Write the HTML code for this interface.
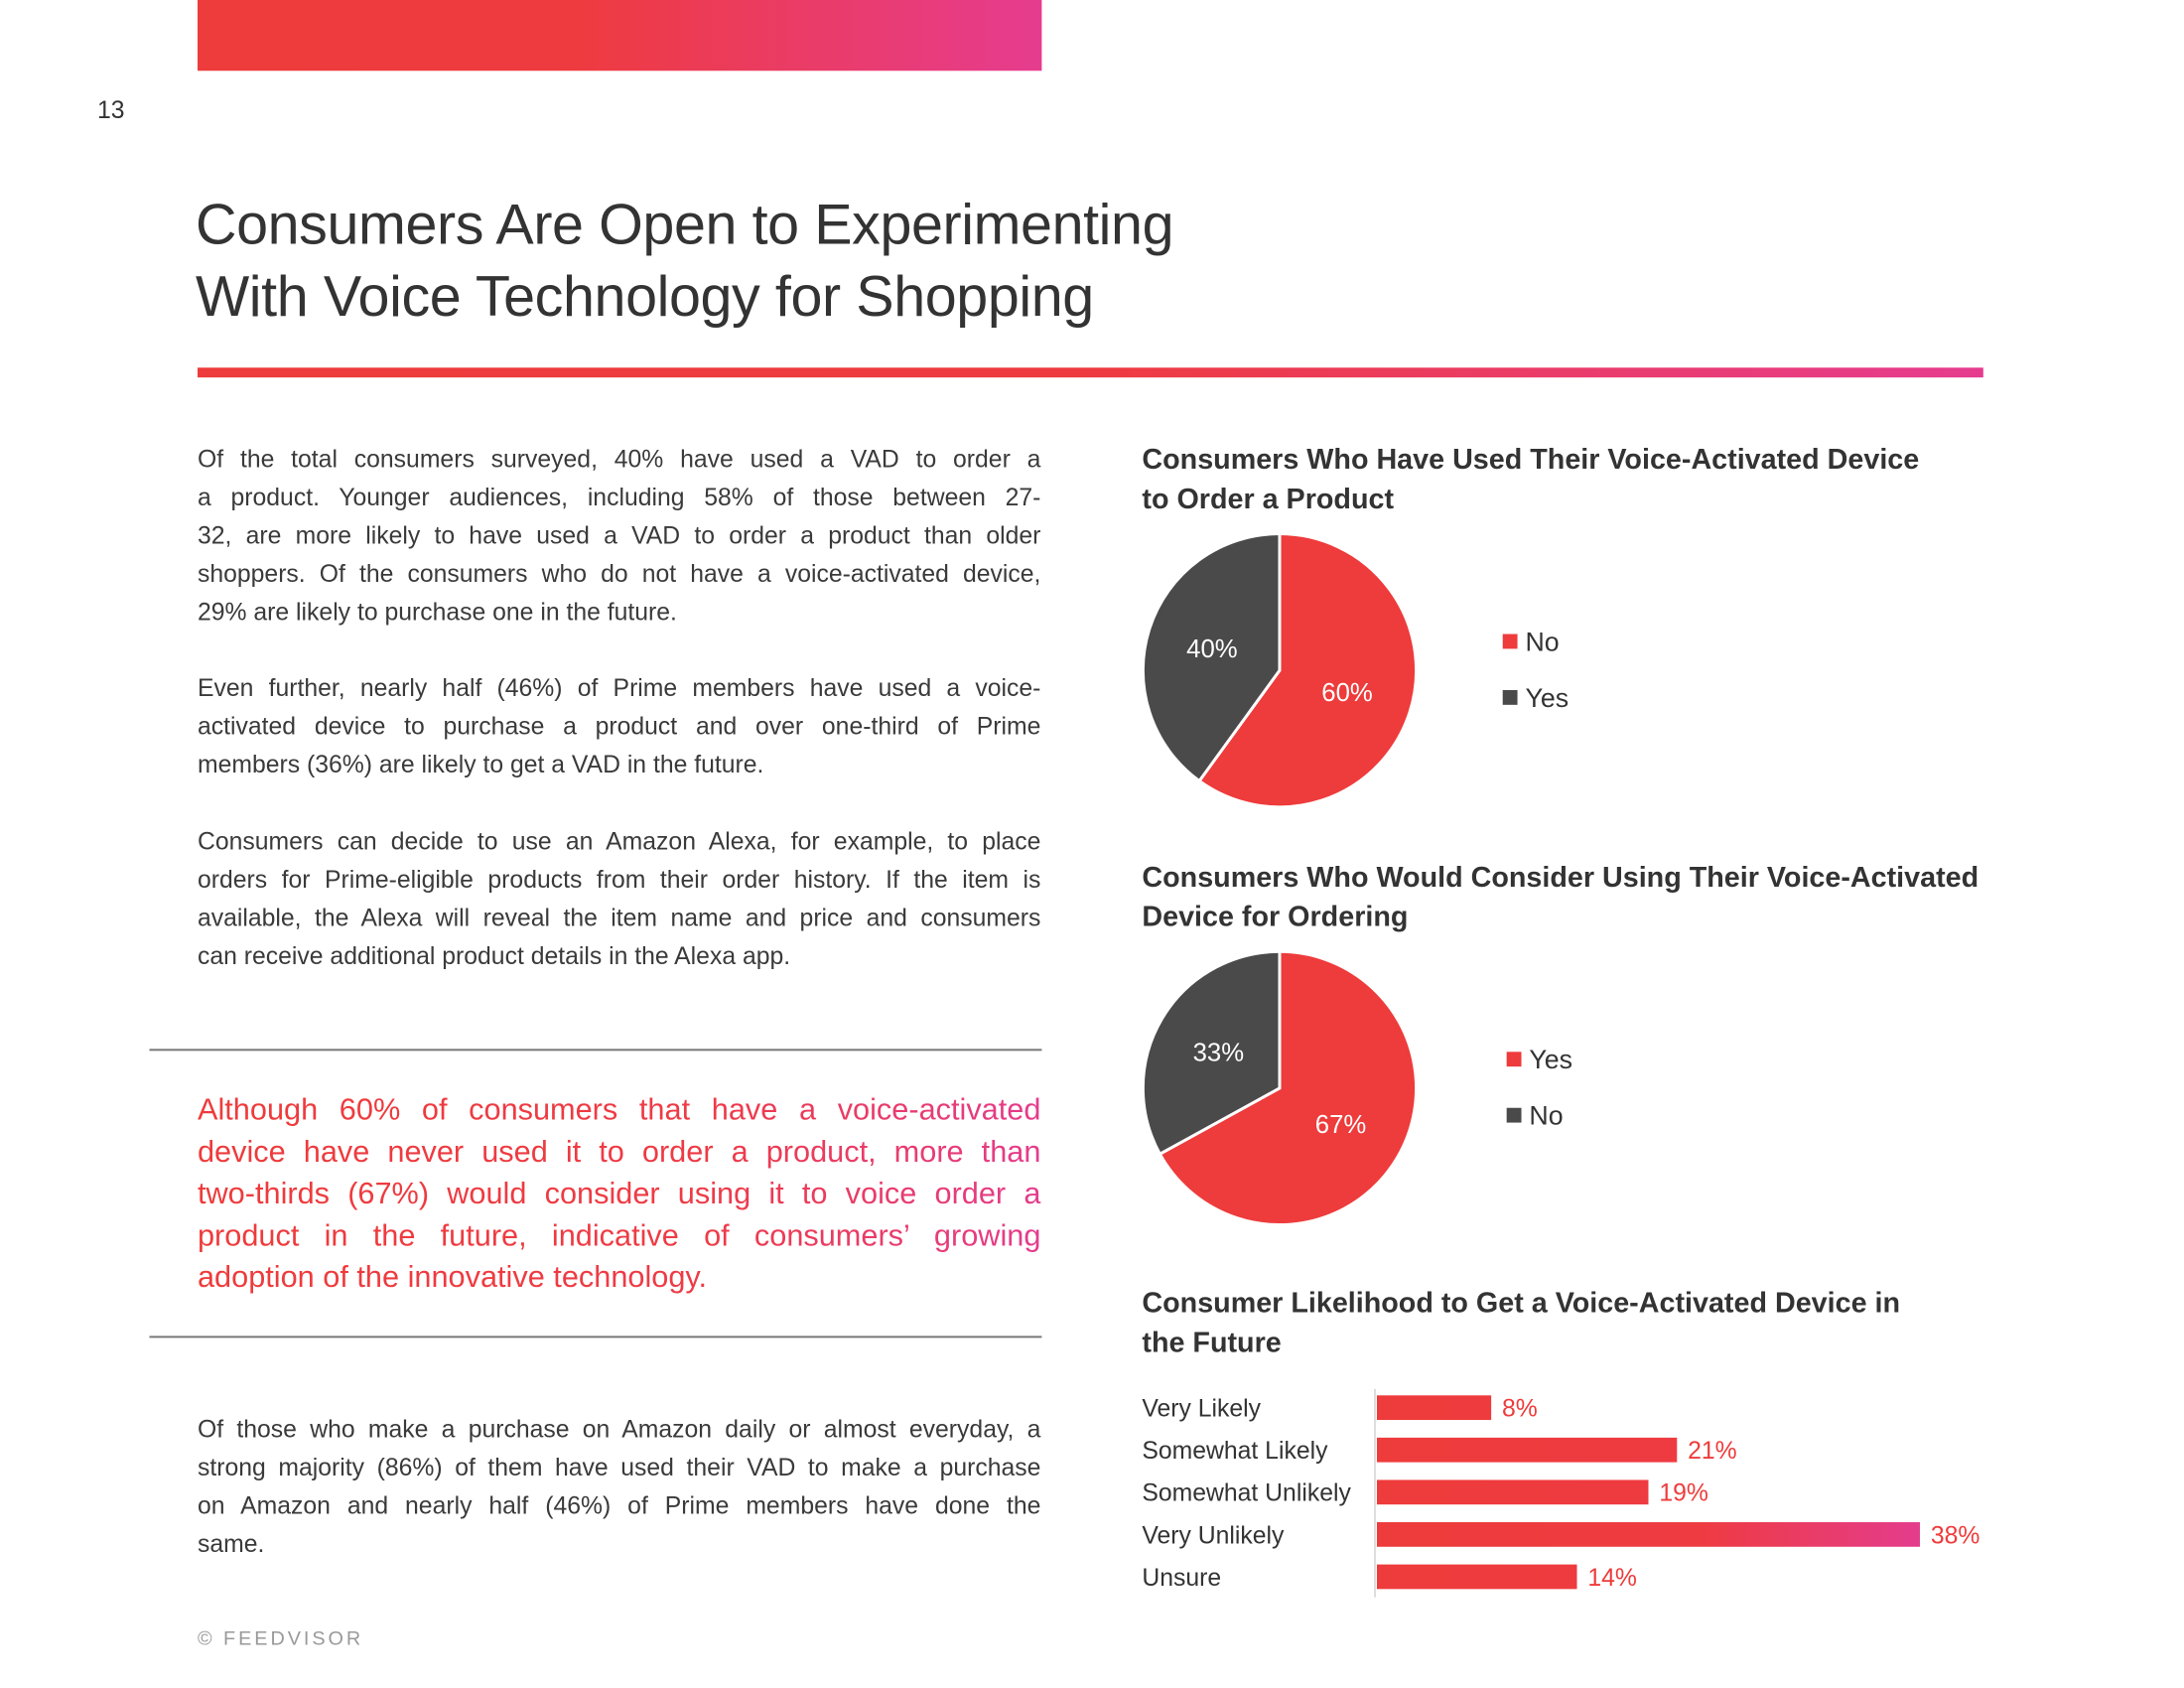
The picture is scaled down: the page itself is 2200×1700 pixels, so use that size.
<!DOCTYPE html>
<html><head><meta charset="utf-8">
<style>
html,body{margin:0;padding:0;background:#fff;}
body{width:2200px;height:1700px;position:relative;overflow:hidden;font-family:"Liberation Sans",sans-serif;color:#333;}
#wrap{position:absolute;left:0;top:0;width:2200px;height:1700px;transform:scale(0.99);transform-origin:0 0;}
.abs{position:absolute;}
.jl{display:block;text-align:justify;text-align-last:justify;white-space:nowrap;}
.ll{display:block;white-space:nowrap;}
.body{left:201px;width:858px;font-size:25px;line-height:39px;color:#3a3a3a;}
.ctitle{left:1162px;font-size:29px;font-weight:bold;line-height:40px;color:#333;white-space:nowrap;}
.quote{left:201px;width:858px;font-size:31px;line-height:42.5px;background:linear-gradient(90deg,#ee3b3b 0%,#ee3b46 60%,#e43c8c 100%);-webkit-background-clip:text;background-clip:text;color:transparent;}
</style></head>
<body>
<div id="wrap">
<div class="abs" style="left:201px;top:0;width:859px;height:72px;background:linear-gradient(90deg,#ee3b3b 0%,#ee3b40 45%,#e63c8f 100%);"></div>
<div class="abs" style="left:99px;top:98px;font-size:25px;color:#333;">13</div>
<div class="abs" style="left:199px;top:192px;font-size:58px;line-height:73px;color:#333;letter-spacing:-0.4px;white-space:nowrap;">Consumers Are Open to Experimenting<br>With Voice Technology for Shopping</div>
<div class="abs" style="left:201px;top:374px;width:1817px;height:10px;background:linear-gradient(90deg,#ee3b3b 0%,#ee3b40 50%,#e63c8f 100%);"></div>

<div class="abs body" style="top:448px;">
<span class="jl">Of the total consumers surveyed, 40% have used a VAD to order a</span>
<span class="jl">a product. Younger audiences, including 58% of those between 27-</span>
<span class="jl">32, are more likely to have used a VAD to order a product than older</span>
<span class="jl">shoppers. Of the consumers who do not have a voice-activated device,</span>
<span class="ll">29% are likely to purchase one in the future.</span>
</div>
<div class="abs body" style="top:681px;">
<span class="jl">Even further, nearly half (46%) of Prime members have used a voice-</span>
<span class="jl">activated device to purchase a product and over one-third of Prime</span>
<span class="ll">members (36%) are likely to get a VAD in the future.</span>
</div>
<div class="abs body" style="top:837px;">
<span class="jl">Consumers can decide to use an Amazon Alexa, for example, to place</span>
<span class="jl">orders for Prime-eligible products from their order history. If the item is</span>
<span class="jl">available, the Alexa will reveal the item name and price and consumers</span>
<span class="ll">can receive additional product details in the Alexa app.</span>
</div>
<div class="abs" style="left:152px;top:1067px;width:908px;height:2px;background:#777;"></div>
<div class="abs quote" style="top:1108px;">
<span class="jl">Although 60% of consumers that have a voice-activated</span>
<span class="jl">device have never used it to order a product, more than</span>
<span class="jl">two-thirds (67%) would consider using it to voice order a</span>
<span class="jl">product in the future, indicative of consumers’ growing</span>
<span class="ll">adoption of the innovative technology.</span>
</div>
<div class="abs" style="left:152px;top:1359px;width:908px;height:2px;background:#777;"></div>
<div class="abs body" style="top:1435px;">
<span class="jl">Of those who make a purchase on Amazon daily or almost everyday, a</span>
<span class="jl">strong majority (86%) of them have used their VAD to make a purchase</span>
<span class="jl">on Amazon and nearly half (46%) of Prime members have done the</span>
<span class="ll">same.</span>
</div>
<div class="abs" style="left:201px;top:1656px;font-size:20px;letter-spacing:3px;color:#999;">© FEEDVISOR</div>

<div class="abs ctitle" style="top:448px;">Consumers Who Have Used Their Voice-Activated Device<br>to Order a Product</div>
<div class="abs ctitle" style="top:873px;">Consumers Who Would Consider Using Their Voice-Activated<br>Device for Ordering</div>
<div class="abs ctitle" style="top:1306px;">Consumer Likelihood to Get a Voice-Activated Device in<br>the Future</div>

<svg id="charts" class="abs" style="left:0;top:0;" width="2200" height="1700" xmlns="http://www.w3.org/2000/svg">
<defs>
<linearGradient id="barGrad" gradientUnits="userSpaceOnUse" x1="1400" y1="0" x2="1953" y2="0">
<stop offset="0" stop-color="#ee3b3b"/><stop offset="0.6" stop-color="#ee3b42"/><stop offset="1" stop-color="#e43c8c"/>
</linearGradient>
</defs>
</svg>
</div>
<script>
const pie1Labels = ["No","Yes"];
const pie1Values = [60,40];
const pie2Labels = ["Yes","No"];
const pie2Values = [67,33];
const barCategories = ["Very Likely","Somewhat Likely","Somewhat Unlikely","Very Unlikely","Unsure"];
const barValues = [8,21,19,38,14];

const NS="http://www.w3.org/2000/svg";
const svg=document.getElementById('charts');
const pieColors=["#ee3b3b","#4a4a4a"];
function mk(tag,attrs){const e=document.createElementNS(NS,tag);for(const k in attrs)e.setAttribute(k,attrs[k]);svg.appendChild(e);return e;}
function drawPie(cx,cy,r,labels,values,name,lx,ly){
  const total=values.reduce((a,b)=>a+b,0);
  let a0=0;
  values.forEach((v,i)=>{
    const a1=a0+v/total*2*Math.PI;
    const x0=cx+r*Math.sin(a0),y0=cy-r*Math.cos(a0);
    const x1=cx+r*Math.sin(a1),y1=cy-r*Math.cos(a1);
    const large=(a1-a0)>Math.PI?1:0;
    const p=mk('path',{d:`M${cx},${cy} L${x0},${y0} A${r},${r} 0 ${large} 1 ${x1},${y1} Z`,fill:pieColors[i],stroke:'#fff','stroke-width':3});
    
    
    const am=(a0+a1)/2, lr=r*0.52;
    const t=mk('text',{x:cx+lr*Math.sin(am),y:cy-lr*Math.cos(am)+9,'text-anchor':'middle','font-size':26,fill:'#fff','font-family':'Liberation Sans, sans-serif'});
    t.textContent=v+'%';
    
    
    const sq=mk('rect',{x:lx,y:ly+i*57-8,width:15,height:15,fill:pieColors[i]});
    
    
    const lt=mk('text',{x:lx+23,y:ly+i*57+9,'font-size':27,fill:'#333','font-family':'Liberation Sans, sans-serif'});
    lt.textContent=labels[i];
    
    
    a0=a1;
  });
}
drawPie(1302,682,139,pie1Labels,pie1Values,'pie1',1529,653);
drawPie(1302,1107,139,pie2Labels,pie2Values,'pie2',1533,1078);

const bx0=1400, pxPer=14.54, rowY0=1432, rowStep=43, bh=25;
const xScale=v=>bx0+v*pxPer;
const yScale=i=>rowY0+i*rowStep;
const ax=mk('line',{x1:1399,y1:1413,x2:1399,y2:1625,stroke:'#ddd','stroke-width':2});


barCategories.forEach((c,i)=>{
  const y=yScale(i);
  const r=mk('rect',{x:bx0+1,y:y-bh/2,width:xScale(barValues[i])-bx0,height:bh,fill:'url(#barGrad)'});
  
  
  const t=mk('text',{x:1162,y:y+9,'font-size':25,fill:'#333','font-family':'Liberation Sans, sans-serif'});
  t.textContent=c;
  
  
  const v=mk('text',{x:xScale(barValues[i])+12,y:y+9,'font-size':25,fill:'#ee3b3b','font-family':'Liberation Sans, sans-serif'});
  v.textContent=barValues[i]+'%';
  
  
});
</script>
</body></html>
